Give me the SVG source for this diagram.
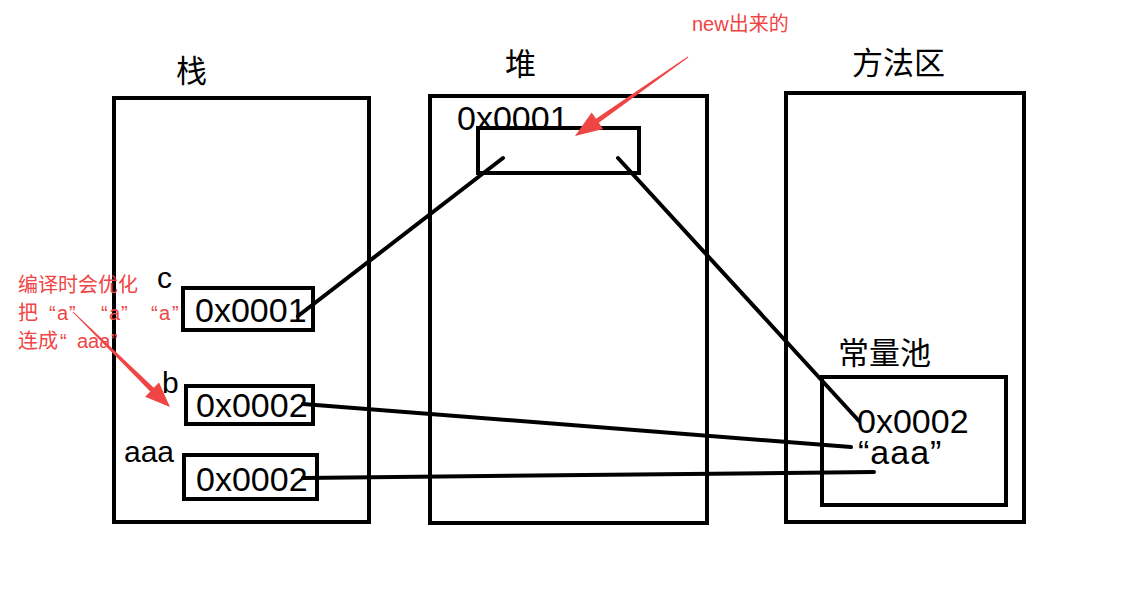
<svg xmlns="http://www.w3.org/2000/svg" width="1146" height="614" viewBox="0 0 1146 614">
<style>
.box{fill:none;stroke:#000;stroke-width:4}
.ln{fill:none;stroke:#000;stroke-width:4;stroke-linecap:round}
.cn{font-family:"Noto Sans CJK SC",sans-serif;font-size:31px;fill:#000}
.lt{font-family:"Liberation Sans",sans-serif;font-size:34px;fill:#000}
.lb{font-family:"Liberation Sans",sans-serif;font-size:30px;fill:#000}
.red{font-family:"Liberation Sans","Noto Sans CJK SC",sans-serif;font-size:20px;fill:#f04545}
.arr{fill:#f04545}
</style>
<rect width="1146" height="614" fill="#fff"/>
<g id="stack">
<rect class="box" x="114" y="98" width="255" height="424"/>
<text class="cn" x="176" y="82">栈</text>
</g>
<g id="heap">
<rect class="box" x="430" y="96" width="277" height="427"/>
<text class="cn" x="505" y="75">堆</text>
</g>
<g id="method">
<rect class="box" x="786" y="93" width="238" height="429"/>
<text class="cn" x="852" y="74">方法区</text>
</g>
<g id="pool">
<rect class="box" x="822" y="377" width="184" height="128"/>
<text class="cn" x="838" y="364">常量池</text>
<text class="lt" x="857" y="433">0x0002</text>
<text class="lt" x="858" y="464" letter-spacing="1">“aaa”</text>
</g>
<g id="heapobj">
<text class="lt" x="457" y="130">0x0001</text>
<rect class="box" x="478" y="128" width="161" height="45"/>
</g>
<g id="varc">
<text class="lb" x="157" y="288">c</text>
<rect class="box" x="183" y="288" width="130" height="42"/>
<text class="lt" x="195" y="322">0x0001</text>
</g>
<g id="varb">
<text class="lb" x="162" y="393">b</text>
<rect class="box" x="186" y="386" width="127" height="38"/>
<text class="lt" x="196" y="417">0x0002</text>
</g>
<g id="varaaa">
<text class="lb" x="124" y="462">aaa</text>
<rect class="box" x="184" y="455" width="133" height="44"/>
<text class="lt" x="196" y="491">0x0002</text>
</g>
<g id="connectors">
<line class="ln" x1="298" y1="316" x2="503" y2="158"/>
<line class="ln" x1="618" y1="158" x2="859" y2="421"/>
<line class="ln" x1="303" y1="404" x2="851" y2="447"/>
<line class="ln" x1="303" y1="478" x2="874" y2="472"/>
</g>
<g id="notes">
<text class="red" x="692" y="31">new出来的</text>
<polygon class="arr" points="688.3,57.4 598.8,122.7 603.1,128.9 575,136 591.7,112.5 596.0,118.7 687.7,56.6"/>
<text class="red" x="18" y="292">编译时会优化</text>
<text class="red" y="320"><tspan x="18">把</tspan><tspan x="49">“</tspan><tspan x="57">a</tspan><tspan x="69">”</tspan><tspan x="101">“</tspan><tspan x="109">a</tspan><tspan x="121">”</tspan><tspan x="151">“</tspan><tspan x="159">a</tspan><tspan x="172">”</tspan></text>
<text class="red" y="348"><tspan x="18">连成</tspan><tspan x="60">“</tspan><tspan x="77">aaa</tspan><tspan x="111">”</tspan></text>
<polygon class="arr" points="72.65,312.36 150.3,391.4 145.1,396.8 170,407 159.0,382.4 153.8,387.8 73.35,311.64"/>
</g>
</svg>
